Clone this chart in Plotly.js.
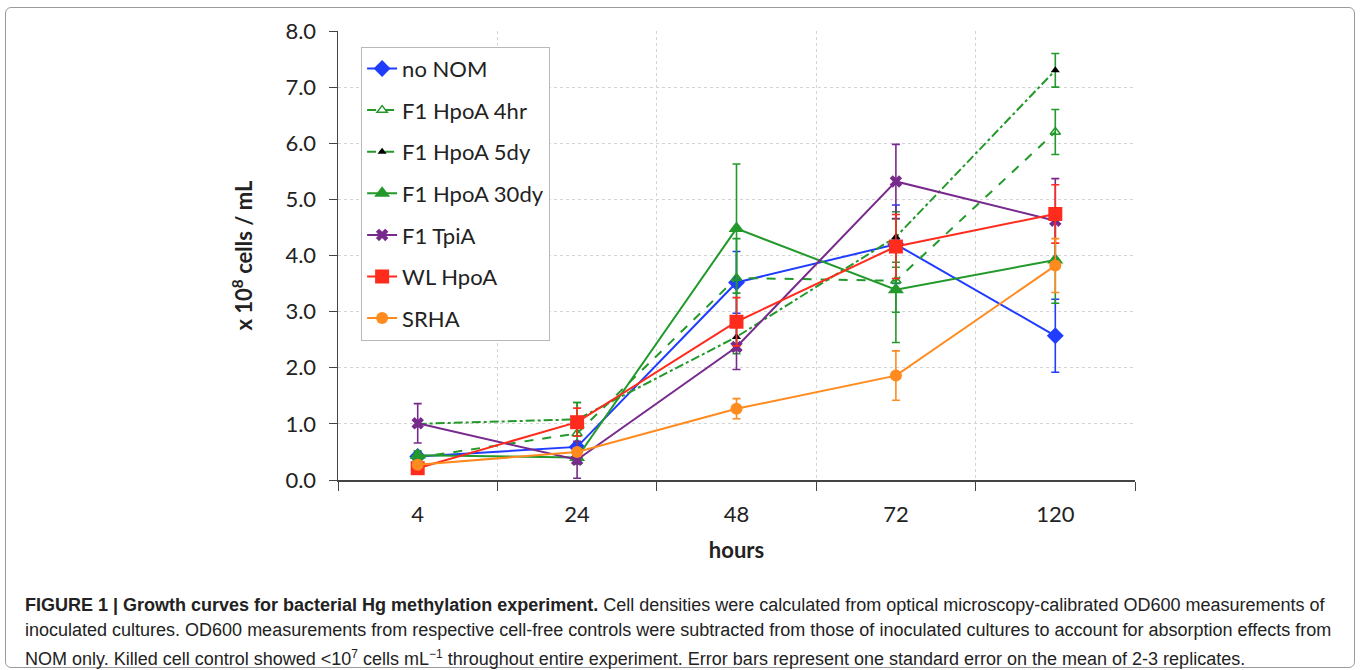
<!DOCTYPE html>
<html>
<head>
<meta charset="utf-8">
<script src="https://cdn.plot.ly/plotly-3.0.1.min.js"></script>
<style>
  html, body { margin: 0; padding: 0; background: #fff; }
  #frame { position: absolute; left: 5px; top: 7px; width: 1348px; height: 659px; border: 1px solid #9a9a9a; border-radius: 6px; }
  #chart { position: absolute; left: 0; top: 0; width: 1360px; height: 670px; }
  #caption { position: absolute; left: 25px; top: 593px; font-family: "Liberation Sans", Arial, sans-serif; font-size: 18px; line-height: 24.5px; color: #222; white-space: nowrap; }
  #caption b { font-weight: bold; }
</style>
</head>
<body>
<div id="frame"></div>
<div id="chart"></div>
<div id="caption"><b>FIGURE 1 | Growth curves for bacterial Hg methylation experiment.</b> Cell densities were calculated from optical microscopy-calibrated OD600 measurements of<br>inoculated cultures. OD600 measurements from respective cell-free controls were subtracted from those of inoculated cultures to account for absorption effects from<br>NOM only. Killed cell control showed &lt;10<sup style="font-size:12px">7</sup> cells mL<sup style="font-size:12px">&minus;1</sup> throughout entire experiment. Error bars represent one standard error on the mean of 2-3 replicates.</div>
<script>
const hours = ["4", "24", "48", "72", "120"];

const noNOM      = [0.42, 0.59, 3.52, 4.20, 2.57];
const noNOMErr   = [0.08, 0.08, 0.55, 0.70, 0.65];

const hpoA4hr    = [0.40, 0.83, 3.60, 3.55, 6.20];
const hpoA4hrErr = [0.06, 0.55, 0.70, 1.10, 0.40];

const hpoA5dy    = [1.00, 1.08, 2.55, 4.33, 7.30];
const hpoA5dyErr = [0.05, 0.30, 0.30, 0.45, 0.30];

const hpoA30dy    = [0.44, 0.40, 4.48, 3.39, 3.92];
const hpoA30dyErr = [0.08, 0.06, 1.15, 0.40, 0.77];

const tpiA    = [1.01, 0.36, 2.37, 5.32, 4.62];
const tpiAErr = [0.35, 0.33, 0.40, 0.66, 0.75];

const wlHpoA    = [0.21, 1.03, 2.82, 4.16, 4.74];
const wlHpoAErr = [0.08, 0.25, 0.43, 0.57, 0.52];

const srha    = [0.27, 0.50, 1.27, 1.86, 3.82];
const srhaErr = [0.05, 0.05, 0.18, 0.44, 0.48];

const BLUE = "#1f3cff", GREEN = "#22992a", PURPLE = "#782a8c", RED = "#ff2b1c", ORANGE = "#ff8a1e";

function tr(name, y, err, color, opts) {
  return Object.assign({
    type: "scatter", mode: "lines+markers", name: name, legendgroup: name,
    x: hours, y: y,
    line: { color: color, width: 2 },
    error_y: { type: "data", array: err, visible: true, color: color, thickness: 1.6, width: 4 }
  }, opts);
}

const traces = [
  tr("no NOM", noNOM, noNOMErr, BLUE, { marker: { symbol: "diamond", size: 13, color: BLUE } }),
  tr("F1 HpoA 4hr", hpoA4hr, hpoA4hrErr, GREEN, { line: { color: GREEN, width: 2, dash: "dash" }, marker: { symbol: "triangle-up-open", size: 9, color: GREEN, line: { width: 1.5, color: GREEN } } }),
  tr("F1 HpoA 5dy", hpoA5dy, hpoA5dyErr, GREEN, { line: { color: GREEN, width: 2, dash: "dashdot" }, marker: { symbol: "triangle-up", size: 8, color: "#000" } }),
  tr("F1 HpoA 30dy", hpoA30dy, hpoA30dyErr, GREEN, { marker: { symbol: "triangle-up", size: 14, color: GREEN } }),
  tr("F1 TpiA", tpiA, tpiAErr, PURPLE, { marker: { symbol: "x", size: 11, color: PURPLE } }),
  tr("WL HpoA", wlHpoA, wlHpoAErr, RED, { marker: { symbol: "square", size: 14, color: RED } }),
  tr("SRHA", srha, srhaErr, ORANGE, { marker: { symbol: "circle", size: 12, color: ORANGE } })
];

const FONT = "Lato, 'Open Sans', sans-serif";

const layout = {
  width: 1360, height: 670,
  margin: { l: 338, r: 225, t: 31, b: 190 },
  paper_bgcolor: "rgba(0,0,0,0)",
  plot_bgcolor: "#fff",
  font: { family: FONT, size: 22, color: "#222" },
  showlegend: true,
  legend: {
    x: 0.029, y: 0.965, xanchor: "left", yanchor: "top",
    bgcolor: "#fff", bordercolor: "#b8b8b8", borderwidth: 1,
    font: { family: FONT, size: 22, color: "#222" },
    tracegroupgap: 10
  },
  xaxis: {
    type: "category", tickson: "boundaries",
    range: [-0.5, 4.5],
    showline: true, linecolor: "#444", linewidth: 1.5,
    ticks: "outside", ticklen: 9, tickcolor: "#444",
    showgrid: true, gridcolor: "#d4d4d4", griddash: "dot",
    tickfont: { size: 22 }, ticklabelstandoff: 14,
    title: { text: "<b>hours</b>", font: { size: 22 }, standoff: 16 },
    zeroline: false, mirror: false
  },
  yaxis: {
    range: [0, 8], dtick: 1, tickformat: ".1f",
    showline: true, linecolor: "#444", linewidth: 1.5,
    ticks: "outside", ticklen: 8, tickcolor: "#444",
    showgrid: true, gridcolor: "#d4d4d4", griddash: "dot",
    tickfont: { size: 22 }, ticklabelstandoff: 8,
    title: { text: "<b>x 10<sup>8</sup> cells / mL</b>", font: { size: 22 }, standoff: 26 },
    zeroline: false
  }
};

Plotly.newPlot("chart", traces, layout, { displayModeBar: false, staticPlot: true });
</script>
</body>
</html>
